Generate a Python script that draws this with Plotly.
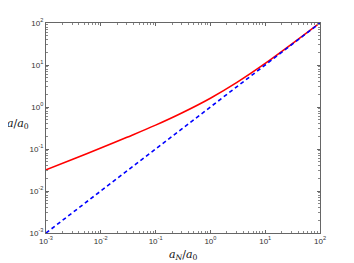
import plotly.graph_objects as go

# values
aN = [1e-3, 3e-3, 1e-2, 3e-2, 0.1, 0.3, 1, 3, 10, 30, 100]
a_mond = [0.032, 0.056, 0.105, 0.19, 0.37, 0.72, 1.62, 3.8, 10.9, 31, 101]
aN_newton = [1e-3, 1e2]
a_newton = [1e-3, 1e2]

tick_vals = [1e-3, 1e-2, 1e-1, 1, 10, 100]
tick_text = ["10<sup>-3</sup>", "10<sup>-2</sup>", "10<sup>-1</sup>",
             "10<sup>0</sup>", "10<sup>1</sup>", "10<sup>2</sup>"]
minor_vals = [m * d for d in tick_vals[:-1] for m in range(2, 10)]

fig = go.Figure()
fig.add_trace(go.Scatter(x=aN, y=a_mond, mode="lines", line_shape="spline",
                         line=dict(color="#ff0000", width=1.6)))
fig.add_trace(go.Scatter(x=aN_newton, y=a_newton, mode="lines",
                         line=dict(color="#0000ff", width=1.6, dash="4px,3px")))

axis_style = dict(
    type="log", range=[-3, 2], tickvals=tick_vals, ticktext=tick_text,
    ticks="inside", ticklen=3, tickcolor="#666", linecolor="#666", linewidth=1,
    mirror="allticks", showline=True, showgrid=False, zeroline=False,
    tickfont=dict(family="Liberation Sans", size=8, color="#333"),
    minor=dict(tickvals=minor_vals, ticks="inside", ticklen=2,
               tickcolor="#888", showgrid=False),
)

# page body has an 8px margin, so the figure is a bit smaller than the window
fig.update_layout(
    width=346, height=255,
    margin=dict(l=38, r=34, t=9, b=30),
    paper_bgcolor="white", plot_bgcolor="white",
    showlegend=False,
    xaxis=dict(axis_style),
    yaxis=dict(axis_style),
)

fig.add_annotation(text="<i>a</i><sub><i>N</i></sub>/<i>a</i><sub>0</sub>",
                   xref="paper", yref="paper", x=0.5, y=-0.06, yanchor="top",
                   showarrow=False, font=dict(family="DejaVu Serif", size=11, color="#111"))
fig.add_annotation(text="<i>a</i>/<i>a</i><sub>0</sub>",
                   xref="paper", yref="paper", x=-0.15, y=0.52, xanchor="left",
                   showarrow=False, font=dict(family="DejaVu Serif", size=11, color="#111"))

fig.write_html("out.html")
